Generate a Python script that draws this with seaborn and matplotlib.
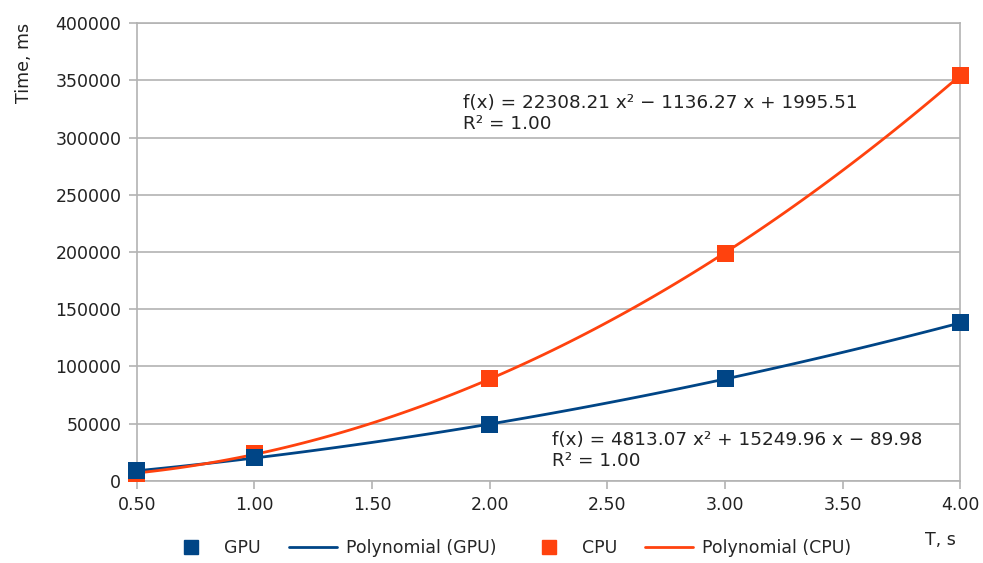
import numpy as np
import pandas as pd
import seaborn as sns
import matplotlib.pyplot as plt
from matplotlib.lines import Line2D
from matplotlib.ticker import FormatStrFormatter, MultipleLocator

# -------------------------------------------------------------------
# Data
# -------------------------------------------------------------------
t_values = [0.5, 1.0, 2.0, 3.0, 4.0]
gpu_ms = [8700, 20000, 49500, 89000, 138000]
cpu_ms = [6500, 23500, 89000, 199000, 354500]

gpu_eq = "f(x) = 4813.07 x² + 15249.96 x − 89.98\nR² = 1.00"
cpu_eq = "f(x) = 22308.21 x² − 1136.27 x + 1995.51\nR² = 1.00"

gpu_color = "#004586"
cpu_color = "#ff420e"
grid_color = "#b3b3b3"
text_color = "#222222"

df = pd.DataFrame({"T": t_values, "GPU": gpu_ms, "CPU": cpu_ms})

sns.set_style("white")
plt.rcParams['font.family'] = ['DejaVu Sans']
plt.rcParams['font.size'] = 12.5
fs = 12.5

fig, ax = plt.subplots(figsize=(9.83, 5.63), dpi=100)
fig.subplots_adjust(left=0.139, right=0.977, top=0.959, bottom=0.146)

# Quadratic trend lines (seaborn fits them from the points)
sns.regplot(data=df, x="T", y="GPU", order=2, ci=None, scatter=False,
            truncate=True, color=gpu_color, line_kws={"linewidth": 2}, ax=ax)
sns.regplot(data=df, x="T", y="CPU", order=2, ci=None, scatter=False,
            truncate=True, color=cpu_color, line_kws={"linewidth": 2}, ax=ax)

# Data points
sns.scatterplot(data=df, x="T", y="CPU", marker="s", s=150, color=cpu_color,
                edgecolor="none", ax=ax, zorder=3, clip_on=False)
sns.scatterplot(data=df, x="T", y="GPU", marker="s", s=150, color=gpu_color,
                edgecolor="none", ax=ax, zorder=3, clip_on=False)

ax.set_xlim(0.5, 4.0)
ax.set_ylim(0, 400000)
ax.xaxis.set_major_locator(MultipleLocator(0.5))
ax.yaxis.set_major_locator(MultipleLocator(50000))
ax.xaxis.set_major_formatter(FormatStrFormatter("%.2f"))
ax.yaxis.set_major_formatter(FormatStrFormatter("%d"))

ax.grid(axis="y", color=grid_color, linewidth=1.2)
ax.set_axisbelow(True)
for side in ["left", "right", "top", "bottom"]:
    ax.spines[side].set_color(grid_color)
    ax.spines[side].set_linewidth(1.2)
ax.tick_params(axis="both", direction="out", length=6, width=1.2,
               color=grid_color, labelsize=fs, labelcolor=text_color, pad=5)
ax.tick_params(axis="x", bottom=True)
ax.tick_params(axis="y", left=True)

ax.set_xlabel("")
ax.set_ylabel("")
fig.text(0.024, 0.888, "Time, ms", rotation=90, ha="center", va="center",
         fontsize=fs, color=text_color)
fig.text(0.957, 0.041, "T, s", ha="center", va="center", fontsize=fs,
         color=text_color)

# Trend line equations
ax.text(1.886, 321000, cpu_eq, ha="left", va="center", fontsize=13.2,
        color=text_color, linespacing=1.2)
ax.text(2.265, 26600, gpu_eq, ha="left", va="center", fontsize=13.2,
        color=text_color, linespacing=1.2)

handles = [
    Line2D([], [], marker="s", linestyle="none", color=gpu_color, markersize=10),
    Line2D([], [], color=gpu_color, linewidth=2),
    Line2D([], [], marker="s", linestyle="none", color=cpu_color, markersize=10),
    Line2D([], [], color=cpu_color, linewidth=2),
]
labels = ["GPU", "Polynomial (GPU)", "CPU", "Polynomial (CPU)"]
fig.legend(handles, labels, loc="center", bbox_to_anchor=(0.518, 0.026),
           ncol=4, frameon=False, fontsize=fs, handlelength=2.8,
           columnspacing=1.6, handletextpad=0.5)

plt.savefig("out.png", dpi=100)
